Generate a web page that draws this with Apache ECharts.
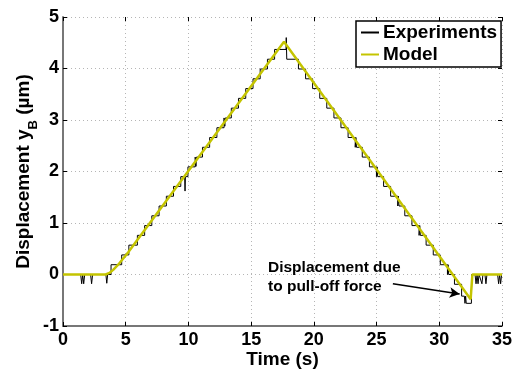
<!DOCTYPE html>
<html><head><meta charset="utf-8">
<script src="https://cdn.jsdelivr.net/npm/echarts@6/dist/echarts.min.js"></script>
<style>html,body{margin:0;padding:0;background:#fff}#c{width:519px;height:370px}</style>
</head><body><div id="c"></div>
<script>
// Experiments (time in s, displacement in µm)
const expTime = [0,1.41,1.49,1.57,1.65,1.73,2.20,2.28,2.36,3.42,3.49,3.56,3.83,3.83,4.68,4.68,5.25,5.25,5.93,5.93,
  6.51,6.51,7.08,7.08,7.66,7.66,8.24,8.24,8.81,8.81,9.39,9.39,9.70,9.73,9.76,9.96,9.96,10.54,10.54,10.60,10.64,
  11.12,11.12,11.69,11.69,12.27,12.27,12.84,12.84,12.90,12.94,13.42,13.42,13.99,13.99,14.57,14.57,15.15,15.15,
  15.72,15.72,16.30,16.30,16.87,16.87,17.78,17.80,17.84,
  18.77,18.77,19.34,19.34,19.90,19.90,20.47,20.47,21.03,21.03,21.60,21.60,22.16,22.16,22.73,22.73,23.30,23.30,23.35,23.40,
  23.86,23.86,24.43,24.43,24.99,24.99,25.04,25.09,25.56,25.56,26.12,26.12,26.69,26.69,26.74,26.79,27.25,27.25,
  27.82,27.82,28.39,28.39,28.44,28.49,28.95,28.95,29.52,29.52,30.08,30.08,30.65,30.65,30.70,30.75,31.21,31.21,
  31.78,31.78,32.00,32.05,32.10,32.15,32.56,32.58,32.85,32.93,33.01,33.09,33.17,33.32,33.40,33.48,33.64,33.72,33.80,
  34.65,34.73,34.81,34.89,34.97,35];
const expDisp = [0,0,-0.18,0,-0.18,0,0,-0.18,0,0,-0.17,0,0,0.19,0.19,0.38,0.38,0.57,0.57,0.76,
  0.76,0.95,0.95,1.14,1.14,1.33,1.33,1.52,1.52,1.71,1.71,1.90,1.90,1.62,1.90,1.90,2.09,2.09,2.28,2.10,2.28,
  2.28,2.47,2.47,2.66,2.66,2.85,2.85,3.04,2.88,3.04,3.04,3.23,3.23,3.42,3.42,3.61,3.61,3.80,
  3.80,3.99,3.99,4.18,4.18,4.37,4.37,4.60,4.18,
  4.18,3.99,3.99,3.80,3.80,3.61,3.61,3.42,3.42,3.23,3.23,3.04,3.04,2.85,2.85,2.66,2.66,2.47,2.66,2.47,
  2.47,2.28,2.28,2.09,2.09,1.90,2.09,1.90,1.90,1.71,1.71,1.52,1.52,1.33,1.52,1.33,1.33,1.14,
  1.14,0.95,0.95,0.76,0.95,0.76,0.76,0.57,0.57,0.38,0.38,0.19,0.19,0.00,0.19,0.00,0.00,-0.19,
  -0.19,-0.42,-0.42,-0.56,-0.42,-0.56,-0.56,0,0,-0.18,0,-0.18,0,0,-0.18,0,0,-0.18,0,
  0,-0.18,0,-0.18,0,0];
// Model
const modelTime = [0,3.40,3.70,4.00,4.40,4.80,5.20,17.62,32.50,32.62,32.64,35];
const modelDisp = [0,0,0.03,0.09,0.19,0.31,0.43,4.52,-0.48,-0.46,0,0];
// Annotation arrow (data coords)
const arrowFrom = [26.3, -0.18];
const arrowTo = [31.62, -0.38];
const annotation = 'Displacement due\nto pull-off force';

const FONT = '"Liberation Sans", Arial, Helvetica, sans-serif';
const zip = (a, b) => a.map((v, i) => [v, b[i]]);

const chart = echarts.init(document.getElementById('c'), null, {renderer: 'canvas'});
const axisCommon = {
  axisLine: {show: true, onZero: false, lineStyle: {color: '#777', width: 2}},
  axisTick: {show: true, inside: true, length: 4, lineStyle: {color: '#000', width: 1}},
  splitLine: {show: true, showMinLine: true, showMaxLine: true, lineStyle: {color: '#b5b5b5', width: 1, type: [1, 3]}},
  axisLabel: {color: '#000', fontSize: 18, fontWeight: 'bold', fontFamily: FONT}
};
chart.setOption({
  animation: false,
  backgroundColor: '#fff',
  grid: {left: 63, top: 17, right: 17, bottom: 44, containLabel: false, outerBoundsMode: 'none'},
  xAxis: [
    Object.assign({}, axisCommon, {
      type: 'value', min: 0, max: 35, interval: 5,
      name: 'Time (s)', nameLocation: 'middle', nameGap: 24, nameMoveOverlap: false,
      nameTextStyle: {color: '#000', fontSize: 19, fontWeight: 'bold', fontFamily: FONT},
      axisLabel: Object.assign({}, axisCommon.axisLabel, {margin: 5})
    }),
    {type: 'value', min: 0, max: 35, interval: 5, position: 'top',
     axisLine: {show: false, onZero: false}, axisLabel: {show: false}, splitLine: {show: false},
     axisTick: {show: true, inside: true, length: 4, lineStyle: {color: '#000'}}}
  ],
  yAxis: [
    Object.assign({}, axisCommon, {
      type: 'value', min: -1, max: 5, interval: 1,
      name: '{a|Displacement y}{b|B}{a| (µm)}', nameLocation: 'middle', nameGap: 23, nameMoveOverlap: false,
      nameTextStyle: {color: '#000', fontFamily: FONT, rich: {
        a: {fontSize: 19, fontWeight: 'bold', fontFamily: FONT, color: '#000'},
        b: {fontSize: 13, fontWeight: 'bold', fontFamily: FONT, color: '#000', padding: [20, 0, 0, 0]}
      }},
      axisLabel: Object.assign({}, axisCommon.axisLabel, {margin: 4})
    }),
    {type: 'value', min: -1, max: 5, interval: 1, position: 'right',
     axisLine: {show: false, onZero: false}, axisLabel: {show: false}, splitLine: {show: false},
     axisTick: {show: true, inside: true, length: 4, lineStyle: {color: '#000'}}}
  ],
  legend: {
    left: 356, top: 21, orient: 'vertical',
    data: ['Experiments', 'Model'],
    backgroundColor: '#fff', borderColor: '#000', borderWidth: 1.5,
    padding: [2, 4, 3, 4], itemGap: 3, itemWidth: 18, itemHeight: 14,
    itemStyle: {opacity: 0},
    textStyle: {color: '#000', fontSize: 19, fontWeight: 'bold', fontFamily: FONT, padding: [0, 0, 0, -1]}
  },
  series: [
    {name: 'Experiments', type: 'line', data: zip(expTime, expDisp), showSymbol: false, symbol: 'none',
     lineStyle: {color: '#000', width: 1}, itemStyle: {color: '#000'}, z: 2},
    {name: 'Model', type: 'line', data: zip(modelTime, modelDisp), showSymbol: false, symbol: 'none',
     lineStyle: {color: '#c4c400', width: 2.5}, itemStyle: {color: '#c4c400'}, z: 3,
     markLine: {silent: true, symbol: ['none', 'arrow'], symbolSize: [8, 10], label: {show: false},
       lineStyle: {color: '#000', width: 1.5, type: 'solid'},
       data: [[{coord: arrowFrom}, {coord: arrowTo}]]}}
  ],
  graphic: [{
    type: 'text', left: 268, top: 258, z: 10,
    style: {text: annotation, fill: '#000', font: 'bold 15.5px ' + FONT, lineHeight: 19}
  }]
});
</script></body></html>
